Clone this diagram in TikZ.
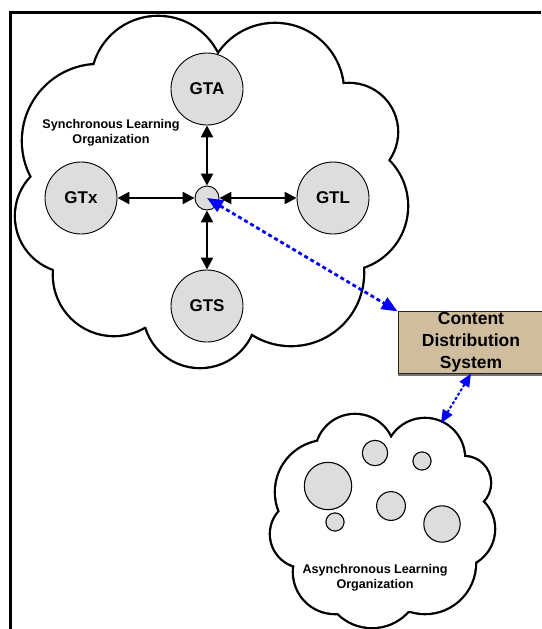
\documentclass[tikz,border=0pt]{standalone}
\usepackage{fontspec}
\setmainfont{Liberation Sans}
\usetikzlibrary{arrows.meta}

\definecolor{gtgray}{RGB}{221,221,221}
\definecolor{cdstan}{RGB}{208,189,158}
\definecolor{linkblue}{RGB}{0,0,255}

% cloud = union of bump circles plus a filled core polygon
\newcommand\cloudshape[2]{%
  \foreach \cx/\cy/\rad in {#1} \draw[cloudline] (\cx,\cy) circle[radius=\rad pt];
  \foreach \cx/\cy/\rad in {#1} \fill[white] (\cx,\cy) circle[radius=\rad pt];
  \fill[white] #2 -- cycle;}

\begin{document}
\begin{tikzpicture}[x=1pt,y=-1pt,
        cloudline/.style={line width=4.6pt},
        gt/.style={draw,circle,fill=gtgray,line width=0.9pt,minimum size=72pt,inner sep=0pt,
            font=\fontsize{17}{20}\selectfont\bfseries},
        hubnode/.style={draw,circle,fill=gtgray,line width=0.9pt,minimum size=24pt,inner sep=0pt},
        member/.style={draw,circle,fill=gtgray,line width=1.1pt,inner sep=0pt},
        orglabel/.style={align=center,inner sep=0pt,font=\fontsize{12.6}{15}\selectfont\bfseries},
        cdsbox/.style={draw=black!85,fill=cdstan,line width=0.8pt,minimum width=146pt,minimum height=61.5pt,
            inner sep=0pt,align=center,font=\fontsize{17.5}{22}\selectfont\bfseries},
        biarrow/.style={line width=2.4pt,{Triangle[length=12pt,width=12pt]}-{Triangle[length=12pt,width=12pt]}},
        bluelink/.style={linkblue,line width=2.8pt,dash pattern=on 4pt off 3pt,
            {Triangle[length=16pt,width=13pt]}-{Triangle[length=16pt,width=13pt]}},
        dotlink/.style={linkblue,line width=2pt,dash pattern=on 3pt off 2pt,
            {Triangle[length=13pt,width=11pt]}-{Triangle[length=13pt,width=11pt]}}]

    \useasboundingbox (0,0) rectangle (541,629);

    % synchronous cloud
    \cloudshape{99/141/76, 158/83/66, 275/92/68, 349/132/48, 343/206/64,
        291/273/72, 200/311/56, 114/275/60, 72/216/56}
        {(95,65) -- (218,55) -- (343,84) -- (388,160) -- (362,266) -- (252,333) -- (146,327) -- (54,270) -- (32,177)}

    % asynchronous cloud
    \cloudshape{355/454/39, 425/458/39, 464/483/26, 456/529/38, 425/563/50,
        372/579/48, 335/572/41, 304/534/33, 327/492/51}
        {(391,438) -- (464,457) -- (482,502) -- (475,562) -- (409,611) -- (338,613) -- (295,565) -- (280,512) -- (319,442)}

    \node[hubnode] (hub) at (207,198) {};
    \node[gt] (gta) at (207,89) {GTA};
    \node[gt] (gts) at (207,306) {GTS};
    \node[gt] (gtl) at (333,198) {GTL};
    \node[gt] (gtx) at (81,198) {GTx};
    \node[orglabel] (synclabel) at (111,133) {Synchronous Learning\\Organization};

    \draw[biarrow] (gta) -- (hub);
    \draw[biarrow] (gts) -- (hub);
    \draw[biarrow] (gtl) -- (hub);
    \draw[biarrow] (gtx) -- (hub);

    \foreach \nm/\px/\py/\d in {a1/375/453/25.4, a2/422/461/18.2, a3/328/486/47.4,
        a4/391/506/28.8, a5/335/522/18.2, a6/442/524/36.4}
        \node[member,minimum size=\d pt] (\nm) at (\px,\py) {};
    \node[orglabel] (asynclabel) at (375,578) {Asynchronous Learning\\Organization};

    \node[cdsbox] (cds) at (471,342.5) {Content\\Distribution\\System};
    \draw[black!55,line width=2pt] ([yshift=-1pt]cds.south west) -- ([yshift=-1pt]cds.south east);

    \coordinate (asynctop) at (441,423);
    \draw[bluelink] (hub.center) -- (cds.north west);
    \draw[dotlink] (cds.south) -- (asynctop);

    % frame
    \draw[line width=2.6pt] (10.7,629) -- (10.7,12.2) -- (541,12.2);
\end{tikzpicture}
\end{document}
